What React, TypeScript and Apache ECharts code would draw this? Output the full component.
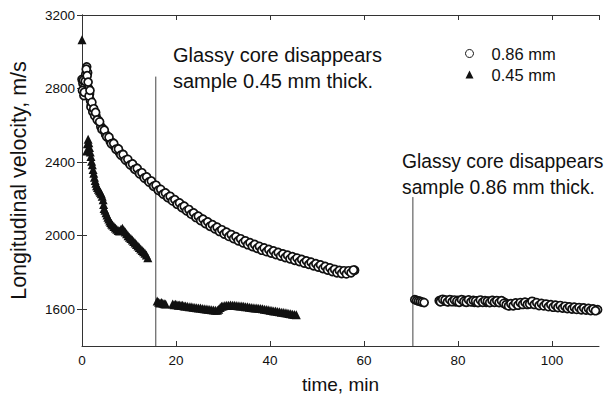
import React, { useEffect, useRef } from "react";
import * as echarts from "echarts";

// [time (min), longitudinal velocity (m/s)] — 0.86 mm sample, before gap
const circles086Early: number[][] = [
  [0, 2850], [0.2, 2828], [0.4, 2762], [0.6, 2812], [0.8, 2878], [1.0, 2918], [1.2, 2886], [1.4, 2800],
  [1.6, 2770], [1.8, 2735], [2.0, 2712], [2.2, 2695], [2.4, 2684], [2.6, 2670], [2.8, 2660], [3.0, 2648],
  [3.5, 2626], [4.0, 2594], [4.5, 2580], [5.0, 2552], [5.5, 2540], [6.0, 2514], [6.5, 2505], [7.0, 2482],
  [7.5, 2474], [8.0, 2450], [8.5, 2444], [9.0, 2422], [9.5, 2416], [10.0, 2396], [10.5, 2391], [11.0, 2372],
  [11.5, 2368], [12.0, 2348], [12.5, 2343], [13.0, 2324], [13.5, 2320], [14.0, 2302], [14.5, 2298], [15.0, 2280],
  [15.5, 2275], [16.0, 2257], [16.5, 2253], [17.0, 2236], [17.5, 2233], [18.0, 2216], [18.5, 2214], [19.0, 2198],
  [19.5, 2196], [20.0, 2180], [20.5, 2178], [21.0, 2162], [21.5, 2160], [22.0, 2144], [22.5, 2142], [23.0, 2126],
  [23.5, 2124], [24.0, 2108], [24.5, 2106], [25.0, 2091], [25.5, 2090], [26.0, 2075], [26.5, 2074], [27.0, 2060],
  [27.5, 2059], [28.0, 2045], [28.5, 2045], [29.0, 2031], [29.5, 2031], [30.0, 2017], [30.5, 2018], [31.0, 2004],
  [31.5, 2005], [32.0, 1992], [32.5, 1993], [33.0, 1980], [33.5, 1981], [34.0, 1969], [34.5, 1970], [35.0, 1958],
  [35.5, 1960], [36.0, 1948], [36.5, 1950], [37.0, 1938], [37.5, 1940], [38.0, 1928], [38.5, 1931], [39.0, 1920],
  [39.5, 1923], [40.0, 1912], [40.5, 1915], [41.0, 1904], [41.5, 1907], [42.0, 1896], [42.5, 1899], [43.0, 1888],
  [43.5, 1891], [44.0, 1881], [44.5, 1884], [45.0, 1873], [45.5, 1876], [46.0, 1865], [46.5, 1869], [47.0, 1858],
  [47.5, 1861], [48.0, 1850], [48.5, 1854], [49.0, 1843], [49.5, 1846], [50.0, 1835], [50.5, 1839], [51.0, 1827],
  [51.5, 1831], [52.0, 1819], [52.5, 1823], [53.0, 1811], [53.5, 1815], [54.0, 1804], [54.5, 1808], [55.0, 1799],
  [55.5, 1805], [56.0, 1797], [56.5, 1804], [57.0, 1802], [57.5, 1807], [58.0, 1812],
];

// additional readings between the ones above (same run, 0.86 mm)
const circles086EarlyExtra: number[][] = [
  [0.1, 2790], [0.3, 2845], [0.5, 2780], [0.7, 2840], [0.9, 2905], [1.1, 2870], [1.3, 2835], [1.5, 2760],
  [1.7, 2790], [1.9, 2700], [2.1, 2725], [2.3, 2672], [2.5, 2690], [2.7, 2652], [2.9, 2670],
  [3.25, 2629], [3.75, 2619], [4.25, 2578], [4.75, 2574], [5.25, 2538], [5.75, 2535], [6.25, 2500], [6.75, 2502],
  [7.25, 2470], [7.75, 2471], [8.25, 2438], [8.75, 2441], [9.25, 2411], [9.75, 2415], [10.25, 2385], [10.75, 2390],
  [11.25, 2361], [11.75, 2366], [12.25, 2337], [12.75, 2342], [13.25, 2314], [13.75, 2319], [14.25, 2292],
  [14.75, 2297], [15.25, 2269], [15.75, 2274], [16.25, 2247], [16.75, 2252], [17.25, 2226], [17.75, 2232],
  [18.25, 2207], [18.75, 2214], [19.25, 2189], [19.75, 2196], [20.25, 2171], [20.75, 2178], [21.25, 2153],
  [21.75, 2160], [22.25, 2135], [22.75, 2142], [23.25, 2117], [23.75, 2124], [24.25, 2099], [24.75, 2106],
  [25.25, 2082], [25.75, 2090], [26.25, 2066], [26.75, 2075], [27.25, 2051], [27.75, 2060], [28.25, 2037],
  [28.75, 2046], [29.25, 2023], [29.75, 2032], [30.25, 2009], [30.75, 2019], [31.25, 1996], [31.75, 2006],
  [32.25, 1984], [32.75, 1994], [33.25, 1972], [33.75, 1983], [34.25, 1961], [34.75, 1972], [35.25, 1951],
  [35.75, 1962], [36.25, 1941], [36.75, 1952], [37.25, 1931], [37.75, 1942], [38.25, 1921], [38.75, 1933],
  [39.25, 1913], [39.75, 1925], [40.25, 1905], [40.75, 1917], [41.25, 1897], [41.75, 1909], [42.25, 1889],
  [42.75, 1901], [43.25, 1881], [43.75, 1894], [44.25, 1874], [44.75, 1886], [45.25, 1866], [45.75, 1878],
  [46.25, 1859], [46.75, 1871], [47.25, 1851], [47.75, 1863], [48.25, 1844], [48.75, 1856], [49.25, 1836],
  [49.75, 1848], [50.25, 1829], [50.75, 1841], [51.25, 1821], [51.75, 1833], [52.25, 1813], [52.75, 1825],
  [53.25, 1805], [53.75, 1817], [54.25, 1798], [54.75, 1811], [55.25, 1794], [55.75, 1809], [56.25, 1792],
  [56.75, 1809], [57.25, 1798], [57.75, 1813],
];

// 0.86 mm sample, after glassy core disappears
const circles086Late: number[][] = [
  [70.8, 1652], [71.2, 1648], [71.6, 1645], [72.0, 1642], [72.4, 1639], [72.8, 1636],
  [76.0, 1646], [76.5, 1650], [77.0, 1644], [77.5, 1648], [78.0, 1642], [78.5, 1650], [79.0, 1645], [79.5, 1640],
  [80.0, 1648], [80.5, 1643], [81.0, 1650], [81.5, 1646], [82.0, 1640], [82.5, 1647], [83.0, 1642], [83.5, 1638],
  [84.0, 1645], [84.5, 1640], [85.0, 1646], [85.5, 1641], [86.0, 1637], [86.5, 1644], [87.0, 1640], [87.5, 1646],
  [88.0, 1641], [88.5, 1644], [89.0, 1639], [89.5, 1642], [90.0, 1636], [90.5, 1628], [91.0, 1620], [91.5, 1624],
  [92.0, 1628], [92.5, 1630], [93.0, 1627], [93.5, 1633], [94.0, 1632], [94.5, 1630], [95.0, 1634], [95.5, 1637],
  [96.0, 1640], [96.5, 1632], [97.0, 1628], [97.5, 1626], [98.0, 1623], [98.5, 1625], [99.0, 1620], [99.5, 1621],
  [100.0, 1617], [100.5, 1619], [101.0, 1614], [101.5, 1616], [102.0, 1612], [102.5, 1613], [103.0, 1609],
  [103.5, 1611], [104.0, 1607], [104.5, 1608], [105.0, 1604], [105.5, 1606], [106.0, 1602], [106.5, 1604],
  [107.0, 1600], [107.5, 1601], [108.0, 1598], [108.5, 1599], [109.0, 1596], [109.7, 1597],
];

const circles086LateExtra: number[][] = [
  [76.25, 1640], [76.75, 1654], [77.25, 1650], [77.75, 1640], [78.25, 1652], [78.75, 1641], [79.25, 1650],
  [79.75, 1644], [80.25, 1638], [80.75, 1652], [81.25, 1642], [81.75, 1638], [82.25, 1651], [82.75, 1640],
  [83.25, 1648], [83.75, 1645], [84.25, 1636], [84.75, 1650], [85.25, 1638], [85.75, 1647], [86.25, 1643],
  [86.75, 1636], [87.25, 1648], [87.75, 1638], [88.25, 1646], [88.75, 1636], [89.25, 1646], [89.75, 1632],
  [90.25, 1624], [90.75, 1618], [91.25, 1630], [91.75, 1619], [92.25, 1634], [92.75, 1622], [93.25, 1636],
  [93.75, 1626], [94.25, 1638], [94.75, 1626], [95.25, 1628], [95.75, 1643], [96.25, 1626], [96.75, 1636],
  [97.25, 1620], [97.75, 1631], [98.25, 1618], [98.75, 1628], [99.25, 1614], [99.75, 1625], [100.25, 1611],
  [100.75, 1622], [101.25, 1609], [101.75, 1620], [102.25, 1606], [102.75, 1616], [103.25, 1604], [103.75, 1613],
  [104.25, 1601], [104.75, 1611], [105.25, 1599], [105.75, 1609], [106.25, 1597], [106.75, 1607], [107.25, 1595],
  [107.75, 1604], [108.25, 1593], [108.75, 1602], [109.25, 1592],
];

// 0.45 mm sample, before glassy core disappears
const triangles045Early: number[][] = [
  [0, 3065], [1.0, 2460], [1.15, 2500], [1.3, 2525], [1.45, 2505], [1.6, 2480], [1.75, 2455], [1.9, 2430],
  [2.05, 2405], [2.2, 2385], [2.35, 2360], [2.5, 2340], [2.65, 2318], [2.8, 2300], [2.95, 2285], [3.1, 2272],
  [3.3, 2262], [3.5, 2252], [3.7, 2244], [3.9, 2236], [4.1, 2228], [4.3, 2215], [4.5, 2195], [4.6, 2170],
  [4.7, 2148], [4.9, 2138], [5.1, 2125], [5.3, 2112], [5.5, 2100], [5.7, 2090], [5.9, 2080], [6.1, 2072],
  [6.3, 2064], [6.5, 2058], [6.8, 2050], [7.1, 2042], [7.4, 2035], [7.7, 2028], [8.0, 2026], [8.3, 2035],
  [8.6, 2040], [8.9, 2030], [9.2, 2020], [9.5, 2010], [9.8, 2000], [10.1, 1992], [10.4, 1984], [10.7, 1976],
  [11.0, 1968], [11.3, 1960], [11.6, 1952], [11.9, 1944], [12.2, 1936], [12.5, 1928], [12.8, 1920], [13.1, 1912],
  [13.4, 1904], [13.7, 1895], [14.0, 1880],
];

// 0.45 mm sample, after glassy core disappears
const triangles045Late: number[][] = [
  [16.0, 1645], [16.3, 1638], [16.6, 1634], [16.9, 1636], [17.2, 1632], [17.5, 1630], [17.8, 1628],
  [19.3, 1628], [19.6, 1625], [19.9, 1627], [20.2, 1624], [20.5, 1622], [20.8, 1623], [21.1, 1620], [21.4, 1621],
  [21.7, 1618], [22.0, 1617], [22.4, 1616], [22.8, 1614], [23.2, 1613], [23.6, 1611], [24.0, 1610], [24.4, 1608],
  [24.8, 1607], [25.2, 1606], [25.6, 1604], [26.0, 1603], [26.4, 1601], [26.8, 1600], [27.2, 1598], [27.6, 1597],
  [28.0, 1596], [28.4, 1595], [28.8, 1594], [29.1, 1600], [29.4, 1610], [29.7, 1616], [30.0, 1618], [30.4, 1620],
  [30.8, 1621], [31.2, 1622], [31.6, 1623], [32.0, 1622], [32.4, 1621], [32.8, 1620], [33.2, 1619], [33.6, 1618],
  [34.0, 1617], [34.4, 1616], [34.8, 1614], [35.2, 1613], [35.6, 1611], [36.0, 1610], [36.4, 1608], [36.8, 1607],
  [37.2, 1606], [37.6, 1605], [38.0, 1604], [38.4, 1602], [38.8, 1600], [39.2, 1598], [39.6, 1597], [40.0, 1595],
  [40.4, 1593], [40.8, 1591], [41.2, 1590], [41.6, 1588], [42.0, 1586], [42.4, 1584], [42.8, 1583], [43.2, 1581],
  [43.6, 1579], [44.0, 1577], [44.4, 1575], [44.8, 1573], [45.2, 1571], [45.6, 1570],
];

// vertical markers: glassy core disappears
const marker045: number[][] = [[15.7, 1400], [15.7, 2865]];
const marker086: number[][] = [[70.4, 1400], [70.4, 2210]];

const yTickValues = [1600, 2000, 2400, 2800, 3200];
const seriesNames = ["0.86 mm", "0.45 mm"];
const annotation045 = ["Glassy core disappears", "sample 0.45 mm thick."];
const annotation086 = ["Glassy core disappears", "sample 0.86 mm thick."];

const FONT = "'Liberation Sans', Arial, Helvetica, sans-serif";
const AXIS_COLOR = "#333";
const TEXT_COLOR = "#111";

export default function App() {
  const ref = useRef<HTMLDivElement>(null);

  useEffect(() => {
    if (!ref.current) return;
    const chart = echarts.init(ref.current, undefined, { renderer: "svg" });

    const axisLine = { show: true, lineStyle: { color: AXIS_COLOR, width: 1 } };
    const tickIn = { show: true, inside: true, length: 5, lineStyle: { color: AXIS_COLOR, width: 1 } };

    const annText = (x: number, y: number, text: string, size: number) => ({
      type: "text",
      x,
      y,
      z: 10,
      style: { text, fontSize: size, fontFamily: FONT, fill: TEXT_COLOR, verticalAlign: "middle", align: "left" },
    });

    const option: any = {
      animation: false,
      textStyle: { fontFamily: FONT },
      grid: { left: 82, right: 9, top: 15, bottom: 48, containLabel: false, outerBoundsMode: "none" },
      legend: {
        data: seriesNames,
        orient: "vertical",
        left: 460,
        top: 40,
        itemWidth: 8,
        itemHeight: 8,
        itemGap: 4,
        selectedMode: false,
        itemStyle: { borderWidth: 1 },
        textStyle: { fontSize: 16.5, color: TEXT_COLOR, fontFamily: FONT, padding: [0, 0, 0, 13] },
      },
      xAxis: [
        {
          type: "value",
          position: "bottom",
          min: 0,
          max: 110,
          interval: 20,
          name: "time, min",
          nameLocation: "middle",
          nameGap: 29,
          nameTextStyle: { fontSize: 19, color: TEXT_COLOR, fontFamily: FONT },
          axisLine,
          axisTick: tickIn,
          axisLabel: { fontSize: 13.5, color: TEXT_COLOR, margin: 7, showMaxLabel: false, fontFamily: FONT },
          splitLine: { show: false },
        },
        {
          type: "value",
          position: "top",
          min: 0,
          max: 110,
          interval: 20,
          axisLine,
          axisTick: tickIn,
          axisLabel: { show: false },
          splitLine: { show: false },
        },
      ],
      yAxis: [
        {
          type: "value",
          position: "left",
          min: 1400,
          max: 3200,
          interval: 200,
          name: "Longitudinal velocity, m/s",
          nameLocation: "middle",
          nameGap: 52,
          nameTextStyle: { fontSize: 21.5, color: TEXT_COLOR, fontFamily: FONT },
          axisLine,
          axisTick: { ...tickIn, customValues: yTickValues },
          axisLabel: {
            fontSize: 13.5,
            color: TEXT_COLOR,
            margin: 7,
            customValues: yTickValues,
            fontFamily: FONT,
            formatter: (v: number) => String(v),
          },
          splitLine: { show: false },
        },
        {
          type: "value",
          position: "right",
          min: 1400,
          max: 3200,
          interval: 200,
          axisLine,
          axisTick: { ...tickIn, customValues: yTickValues },
          axisLabel: { show: false },
          splitLine: { show: false },
        },
      ],
      series: [
        {
          name: "marker045",
          type: "line",
          data: marker045,
          symbol: "none",
          silent: true,
          lineStyle: { color: "#444", width: 1 },
          z: 1,
        },
        {
          name: "marker086",
          type: "line",
          data: marker086,
          symbol: "none",
          silent: true,
          lineStyle: { color: "#444", width: 1 },
          z: 1,
        },
        {
          name: seriesNames[0],
          type: "scatter",
          data: [...circles086Early, ...circles086EarlyExtra, ...circles086Late, ...circles086LateExtra],
          symbol: "circle",
          symbolSize: 8,
          itemStyle: { color: "#ffffff", borderColor: "#111", borderWidth: 1.7, opacity: 1 },
          z: 3,
        },
        {
          name: seriesNames[1],
          type: "scatter",
          data: [...triangles045Early, ...triangles045Late],
          symbol: "triangle",
          symbolSize: 9,
          itemStyle: { color: "#111", opacity: 1 },
          z: 3,
        },
      ],
      graphic: [
        annText(173, 55, annotation045[0], 20),
        annText(173, 81, annotation045[1], 20),
        annText(402, 161, annotation086[0], 19.3),
        annText(402, 187, annotation086[1], 19.3),
      ],
    };

    chart.setOption(option);
    return () => chart.dispose();
  }, []);

  return (
    <div
      ref={ref}
      style={{ position: "fixed", left: 0, top: 0, width: 608, height: 394, background: "#fff" }}
    />
  );
}
